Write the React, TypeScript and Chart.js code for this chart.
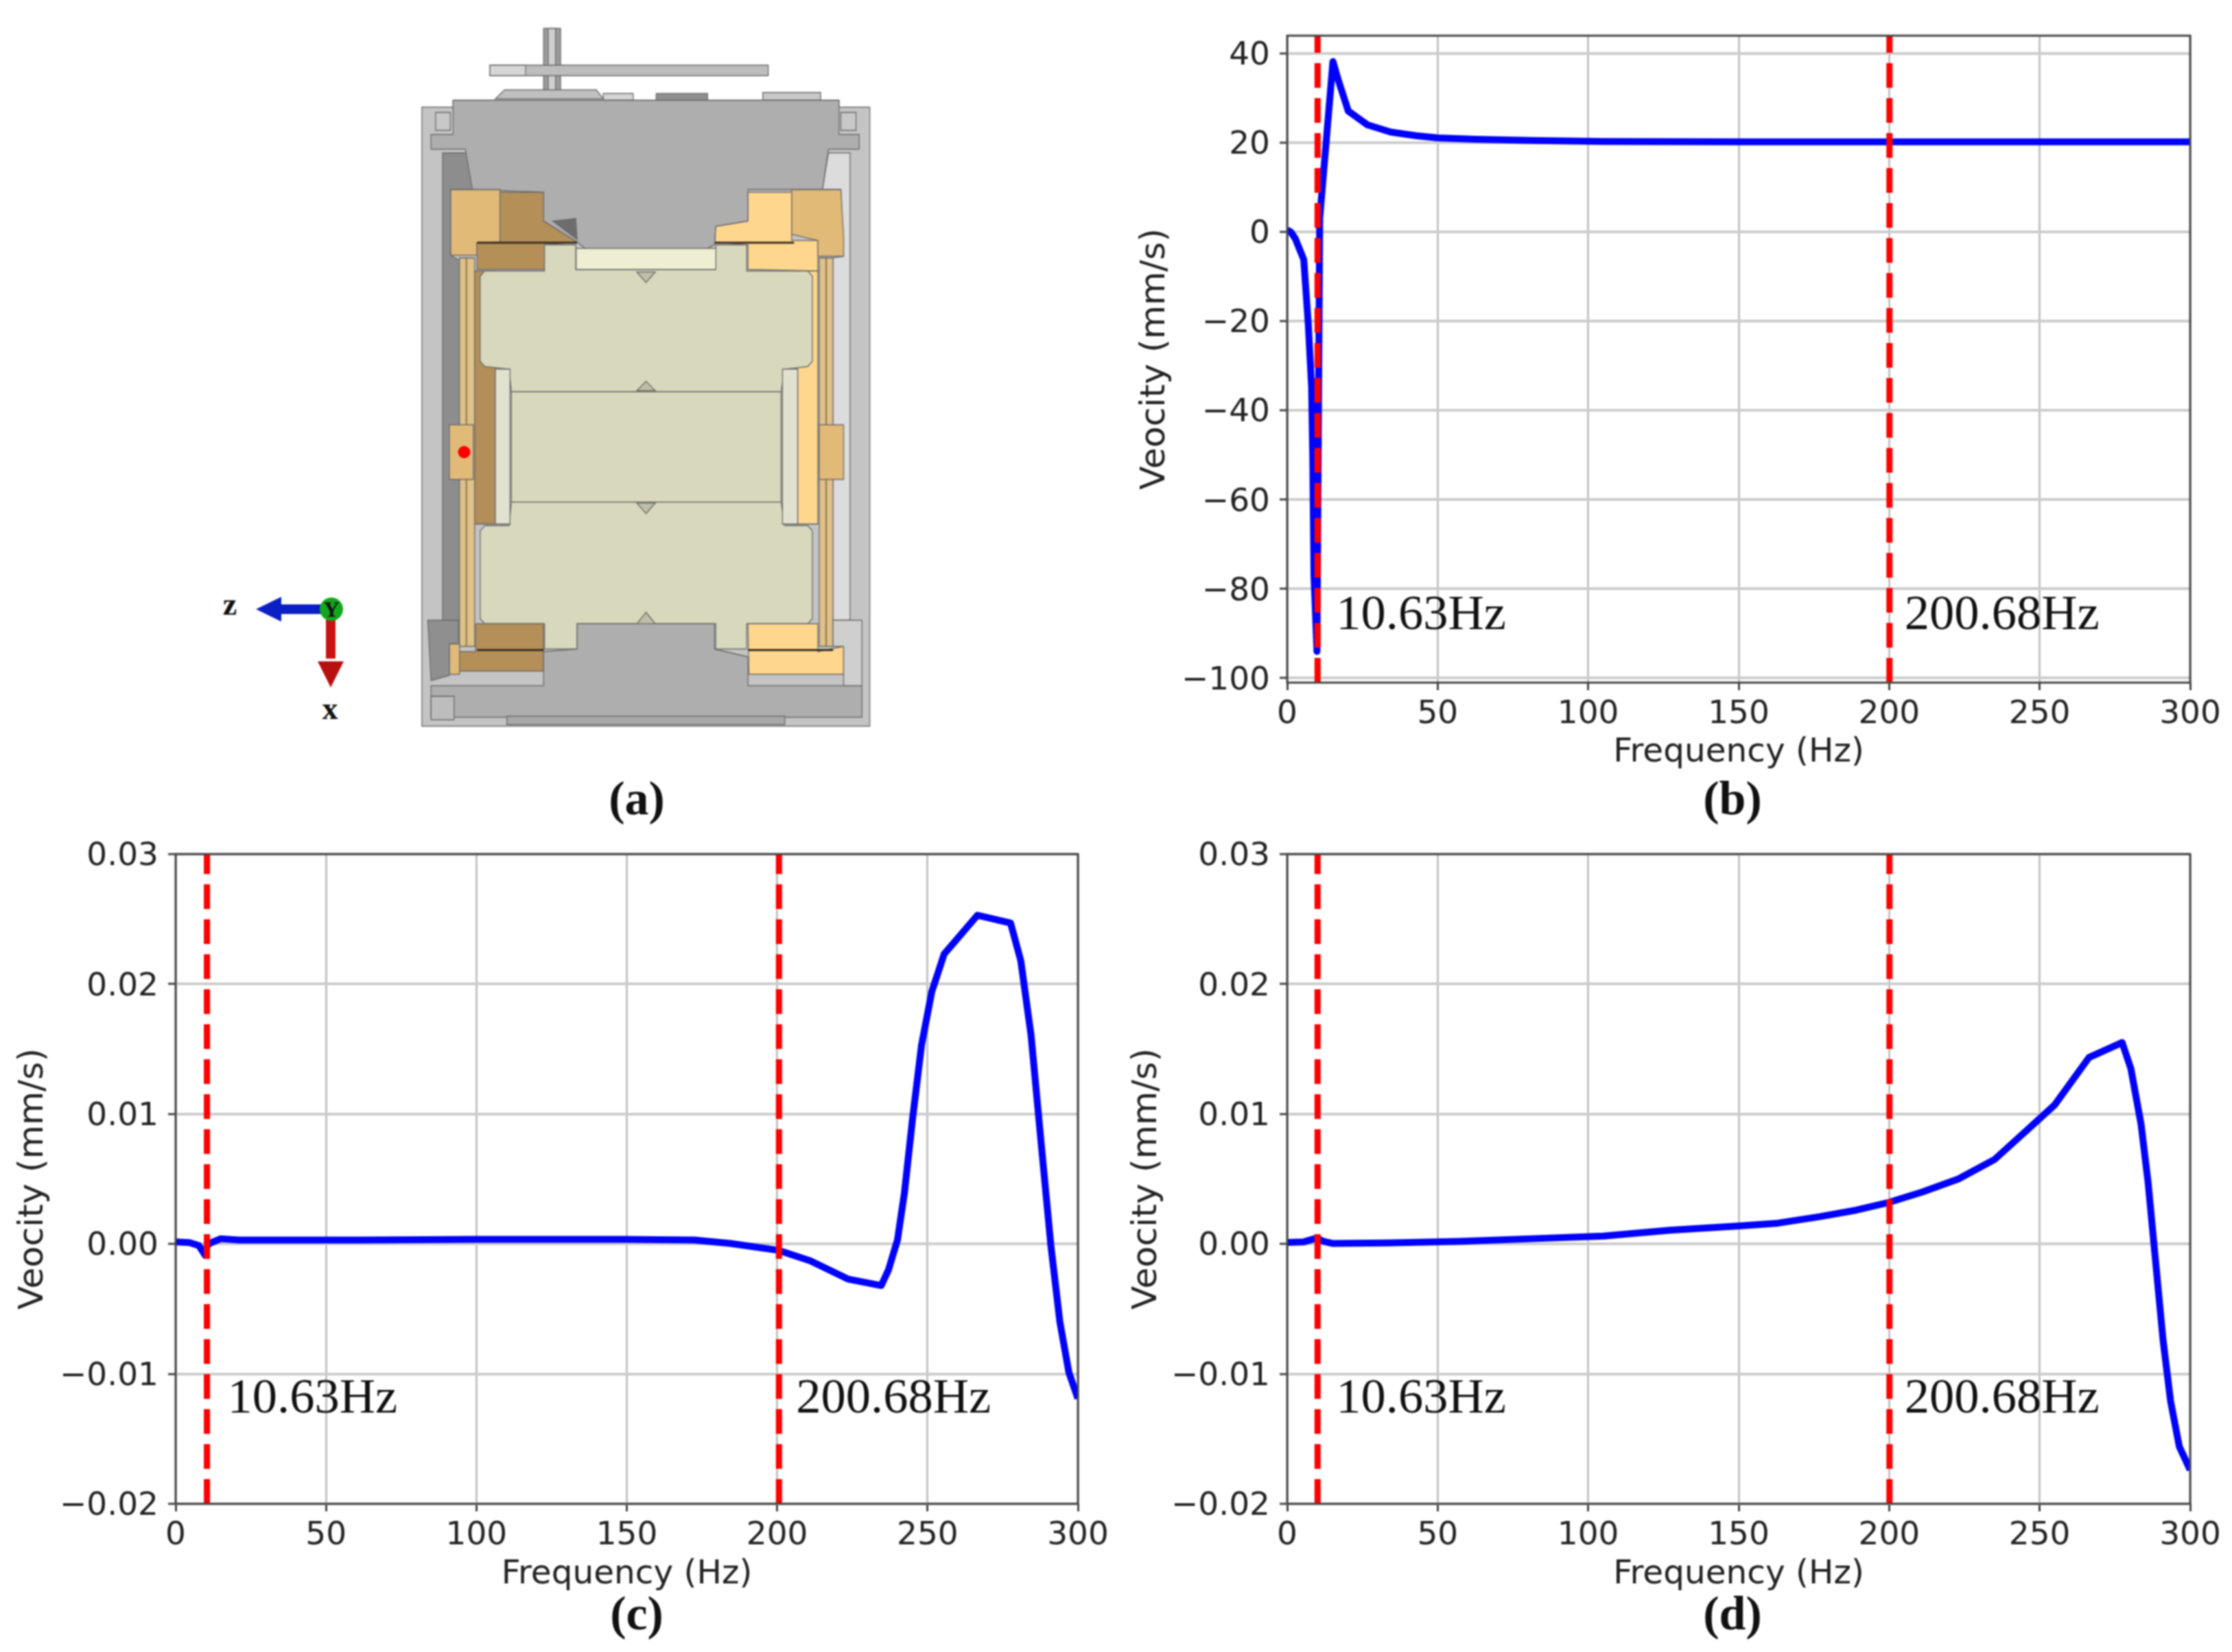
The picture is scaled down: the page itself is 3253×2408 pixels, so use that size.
import { useEffect, useRef } from 'react'
import Chart from 'chart.js/auto'

// values
const xTicks = [0, 50, 100, 150, 200, 250, 300]
const markerHz = [10.1, 200.1]
const markerHzC = [10.4, 200.6]
const markerLabels = ['10.63Hz', '200.68Hz']

const freqB = [0, 1.2, 2.7, 5.5, 7, 8.1, 8.5, 8.9, 9.9, 10.8, 15.2, 17, 20.3, 26.7, 34.4, 42.7, 50, 62.5, 81, 105, 150, 200, 300]
const velB = [0.5, 0, -1.5, -6.2, -20.6, -34.6, -50.6, -77, -94, 3, 38.2, 34, 27.1, 24, 22.4, 21.6, 21.1, 20.8, 20.5, 20.3, 20.2, 20.2, 20.2]
const yTicksB = [-100, -80, -60, -40, -20, 0, 20, 40]

const freqC = [0, 4.6, 7.7, 9.9, 10.5, 11.8, 15, 21, 62, 100, 148, 172.5, 184.5, 200.6, 211, 223.5, 234.6, 237, 240, 242.3, 245, 248, 251.4, 255.5, 266.6, 277.6, 281, 284.4, 288, 291, 294, 297, 300]
const velC = [0.00016, 0.0001, -0.00012, -0.0009, -0.0001, 0.0001, 0.0004, 0.0003, 0.0003, 0.00036, 0.00036, 0.0003, 0.00004, -0.0005, -0.0013, -0.0027, -0.0032, -0.002, 0.0003, 0.0039, 0.0096, 0.0153, 0.0194, 0.0223, 0.0253, 0.0247, 0.0218, 0.0161, 0.0072, -0.0001, -0.006, -0.0099, -0.0119]

const freqD = [0, 5.5, 9.9, 12, 15, 33, 57, 81, 105, 127, 150, 163, 177, 189, 200, 211, 223, 235, 246, 255, 266.4, 277.4, 280.3, 283.7, 286, 288.5, 291, 293.5, 296.4, 300]
const velD = [0.00012, 0.00016, 0.00045, 0.0002, 0.00004, 0.00008, 0.0002, 0.0004, 0.0006, 0.00105, 0.00138, 0.0016, 0.0021, 0.0026, 0.0032, 0.004, 0.005, 0.0065, 0.0088, 0.0107, 0.01435, 0.0155, 0.0135, 0.0092, 0.0048, -0.0013, -0.0074, -0.0121, -0.0156, -0.0174]
const yTicksCD = [-0.02, -0.01, 0, 0.01, 0.02, 0.03]

const FONT_SANS = '"DejaVu Sans"'
const FONT_SERIF = '"Liberation Serif"'
const TEXT = '#222222'

const panelB = {
  freq: freqB, vel: velB, markers: markerHz, yTicks: yTicksB, yMin: -101, yMax: 44, decimals: 0, labelY: -89, labelDx: 0,
  box: { left: 1654, top: -3, width: 1599, height: 1130 },
  plot: { left: 1876, top: 52, right: 3192, bottom: 995 },
}
const panelC = {
  freq: freqC, vel: velC, markers: markerHzC, yTicks: yTicksCD, yMin: -0.02, yMax: 0.03, decimals: 2, labelY: -0.013, labelDx: 3,
  box: { left: 19, top: 1190, width: 1620, height: 1135 },
  plot: { left: 256, top: 1245, right: 1571, bottom: 2192 },
}
const panelD = {
  freq: freqD, vel: velD, markers: markerHz, yTicks: yTicksCD, yMin: -0.02, yMax: 0.03, decimals: 2, labelY: -0.013, labelDx: 0,
  box: { left: 1642, top: 1190, width: 1611, height: 1135 },
  plot: { left: 1876, top: 1245, right: 3192, bottom: 2192 },
}

type Panel = typeof panelB

const framePlugin = {
  id: 'frame',
  afterDatasetsDraw(chart: any, _args: any, opts: any) {
    const { ctx, chartArea: a, scales } = chart
    ctx.save()
    ctx.strokeStyle = '#444444'
    ctx.lineWidth = 3
    ctx.strokeRect(a.left, a.top, a.right - a.left, a.bottom - a.top)
    // frequency labels next to the dashed lines
    ctx.fillStyle = '#111111'
    ctx.font = `72.5px ${FONT_SERIF}`
    ctx.textBaseline = 'alphabetic'
    opts.markers.forEach((hz: number, i: number) => {
      const x = scales.x.getPixelForValue(hz) + (i === 0 ? 27 : 22) + opts.labelDx
      ctx.fillText(markerLabels[i], x, scales.y.getPixelForValue(opts.labelY))
    })
    ctx.restore()
  },
}

function PanelChart({ panel }: { panel: Panel }) {
  const canvasRef = useRef<HTMLCanvasElement>(null)

  useEffect(() => {
    if (!canvasRef.current) return
    const { box, plot } = panel

    const chart = new Chart(canvasRef.current, {
      type: 'line',
      data: {
        datasets: [
          {
            data: panel.freq.map((f, i) => ({ x: f, y: panel.vel[i] })),
            borderColor: '#0000ff',
            borderWidth: 10,
            borderJoinStyle: 'round',
            pointRadius: 0,
            tension: 0,
            order: 2,
            clip: 0,
          },
          ...panel.markers.map((hz) => ({
            data: [{ x: hz, y: panel.yMin }, { x: hz, y: panel.yMax }],
            borderColor: '#ff0000',
            borderWidth: 9,
            borderDash: [36, 15],
            pointRadius: 0,
            order: 1,
            clip: 0,
          })),
        ],
      },
      options: {
        animation: false,
        responsive: false,
        devicePixelRatio: 1,
        layout: {
          autoPadding: false,
          padding: { left: 0, bottom: 0, top: plot.top - box.top, right: box.left + box.width - plot.right },
        },
        plugins: {
          legend: { display: false },
          tooltip: { enabled: false },
          frame: { labelY: panel.labelY, labelDx: panel.labelDx, markers: panel.markers },
        },
        scales: {
          x: {
            type: 'linear',
            min: 0,
            max: 300,
            afterBuildTicks: (s: any) => { s.ticks = xTicks.map((value) => ({ value })) },
            afterFit: (s: any) => { s.height = box.top + box.height - plot.bottom },
            grid: { color: '#c2c2c2', lineWidth: 3, tickColor: '#444444', tickWidth: 3, tickLength: 11 },
            border: { display: false },
            ticks: { color: TEXT, font: { family: FONT_SANS, size: 47 }, maxRotation: 0, autoSkip: false, padding: 8 },
            title: { display: true, text: 'Frequency (Hz)', color: TEXT, font: { family: FONT_SANS, size: 48.5 }, padding: 0 },
          },
          y: {
            type: 'linear',
            min: panel.yMin,
            max: panel.yMax,
            afterBuildTicks: (s: any) => { s.ticks = panel.yTicks.map((value) => ({ value })) },
            afterFit: (s: any) => { s.width = plot.left - box.left },
            grid: { color: '#cccccc', lineWidth: 4, tickColor: '#444444', tickWidth: 3, tickLength: 11 },
            border: { display: false },
            ticks: {
              color: TEXT,
              font: { family: FONT_SANS, size: 47 },
              autoSkip: false,
              padding: 14,
              labelOffset: 4,
              callback: (v: any) => Number(v).toFixed(panel.decimals).replace('-', '\u2212'),
            },
            title: { display: true, text: 'Veocity (mm/s)', color: TEXT, font: { family: FONT_SANS, size: 50.5 }, padding: 0 },
          },
        },
      },
      plugins: [framePlugin],
    } as any)

    return () => chart.destroy()
  }, [panel])

  return (
    <canvas
      ref={canvasRef}
      width={panel.box.width}
      height={panel.box.height}
      style={{ position: 'absolute', left: panel.box.left, top: panel.box.top }}
    />
  )
}

// panel (a): sketch of the section view, in a 1568-wide drawing space
const cadParts: [string, string][] = [
  ['#c4c4c4', '500,178 568,178 568,165 1408,165 1408,178 1475,178 1475,1357 500,1357'],
  ['#8d8d8d', '545,265 600,265 612,335 563,335 563,460 582,470 582,1155 545,1155'],
  ['#dcdcdc', '1385,265 1432,265 1432,1155 1395,1155 1395,465 1418,462 1412,335 1372,335'],
  ['#aeaeae', '568,165 1408,165 1408,230 1452,230 1452,258 1385,258 1372,335 1210,335 1210,395 1140,405 1137,440 1115,450 860,450 838,435 765,395 765,340 610,335 595,258 520,258 520,230 568,230'],
  ['#e2ba78', '563,335 670,335 670,435 620,437 620,460 563,460'],
  ['#b48f58', '670,340 765,340 765,395 838,435 767,440 767,487 620,487 620,437 670,435'],
  ['#6d6d6d', '785,395 835,390 838,430'],
  ['#ffd68e', '1210,340 1305,340 1305,432 1362,432 1362,490 1210,487 1210,440 1138,435 1140,405 1210,395'],
  ['#e2ba78', '1305,335 1412,335 1418,425 1418,462 1362,462 1362,432 1305,420'],
  ['#dfc189', '582,465 615,465 615,1205 582,1205'],
  ['#dfc189', '1365,465 1395,465 1395,1205 1365,1205'],
  ['#b38e58', '615,490 660,490 660,972 615,972'],
  ['#ffd68e', '1318,490 1362,490 1362,972 1318,972'],
  ['#e2ba78', '560,783 612,783 612,887 560,887'],
  ['#e2ba78', '1365,783 1418,783 1418,887 1365,887'],
  ['#d8d8bc', '767,440 835,440 835,487 1140,487 1140,440 1207,440 1207,490 1340,490 1350,500 1350,662 1340,672 1290,677 1282,720 695,720 690,677 637,672 627,662 627,500 637,490 767,490'],
  ['#d8d8bc', '695,720 1282,720 1282,930 695,930'],
  ['#d8d8bc', '690,975 695,930 1282,930 1290,975 1340,975 1350,985 1350,1152 1340,1162 1207,1162 1207,1210 1140,1210 1140,1162 838,1162 838,1210 767,1210 767,1162 637,1162 627,1152 627,985 637,975'],
  ['#f0eed2', '836,447 1140,447 1140,487 836,487'],
  ['#e0e1cf', '660,677 692,677 692,972 660,972'],
  ['#e0e1cf', '1285,677 1318,677 1318,972 1285,972'],
  ['#ffd68e', '1210,1162 1362,1162 1362,1215 1418,1205 1418,1258 1212,1258'],
  ['#b48f58', '617,1162 765,1162 765,1252 580,1252 580,1215 617,1215'],
  ['#e2ba78', '560,1200 582,1200 582,1258 560,1258'],
  ['#aeaeae', '838,1162 1137,1162 1137,1210 1210,1225 1210,1280 1458,1280 1458,1340 520,1340 520,1280 765,1280 765,1215 838,1210'],
  ['#8f8f8f', '513,1155 580,1155 580,1200 560,1200 560,1260 520,1270'],
  ['#cfcfcf', '1395,1155 1458,1155 1458,1280 1418,1280 1418,1205 1395,1205'],
  ['#bdbdbd', '520,1300 570,1300 570,1345 520,1345'],
  ['#a8a8a8', '685,1338 1290,1338 1290,1354 685,1354'],
]

function PanelA() {
  return (
    <svg width={3253} height={2408} style={{ position: 'absolute', left: 0, top: 0 }}>
      <g transform="translate(280 20) scale(0.6696 0.7653)" stroke="#6b6b6b" strokeWidth={2}>
        <rect x={765} y={28} width={37} height={118} fill="#9c9c9c" />
        <rect x={775} y={28} width={16} height={118} fill="#cfcfcf" />
        <rect x={648} y={98} width={606} height={20} fill="#bdbdbd" />
        <rect x={648} y={98} width={78} height={20} fill="#d6d6d6" />
        <polygon points="660,162 680,145 880,145 895,162" fill="#c0c0c0" />
        <rect x={895} y={152} width={65} height={13} fill="#d5d5d5" />
        <rect x={1010} y={152} width={112} height={15} fill="#8f8f8f" />
        <rect x={1242} y={150} width={126} height={15} fill="#c8c8c8" />
        {cadParts.map(([fill, pts]) => (
          <polygon key={pts} points={pts} fill={fill} />
        ))}
        <rect x={530} y={188} width={32} height={34} fill="#c8c8c8" />
        <rect x={1412} y={188} width={33} height={34} fill="#c8c8c8" />
        <polygon points="988,512 968,492 1008,492" fill="#bfbfa8" />
        <polygon points="988,700 968,718 1008,718" fill="#bfbfa8" />
        <polygon points="988,952 968,932 1008,932" fill="#bfbfa8" />
        <polygon points="988,1140 968,1162 1008,1162" fill="#bfbfa8" />
        {/* rails and the dark seams between the parts */}
        <path d="M597 465V783M597 887V1205M1380 465V783M1380 887V1205" fill="none" stroke="#8c7448" strokeWidth={3} />
        <path d="M620 436H838M1138 436H1310M620 1212H765M1210 1212H1395" fill="none" stroke="#3a3022" strokeWidth={4} />
      </g>

      <circle cx={676.5} cy={659} r={9} fill="#ff0000" />

      {/* axis triad */}
      <rect x={405} y={881} width={70} height={14} fill="#0a1fc4" />
      <polygon points="373,888 410,870 410,906" fill="#0a1fc4" />
      <rect x={475} y={900} width={14} height={60} fill="#cc1111" />
      <polygon points="482,1002 463,964 501,964" fill="#b80f0f" />
      <circle cx={483} cy={888} r={17} fill="#12a81e" />
      <text x={483} y={899} textAnchor="middle" fontFamily={FONT_SERIF} fontWeight="bold" fontSize={32} fill="#111">Y</text>
      <text x={335} y={896} textAnchor="middle" fontFamily={FONT_SERIF} fontWeight="bold" fontSize={46} fill="#111">z</text>
      <text x={481} y={1048} textAnchor="middle" fontFamily={FONT_SERIF} fontWeight="bold" fontSize={46} fill="#111">x</text>

      {/* panel captions */}
      <g fontFamily={FONT_SERIF} fontWeight="bold" fontSize={70} fill="#111" textAnchor="middle">
        <text x={928} y={1187}>(a)</text>
        <text x={2525} y={1187}>(b)</text>
        <text x={928} y={2375}>(c)</text>
        <text x={2525} y={2375}>(d)</text>
      </g>
    </svg>
  )
}

export default function App() {
  return (
    <div style={{ position: 'absolute', left: 0, top: 0, width: 3253, height: 2408, background: '#ffffff', overflow: 'hidden', filter: 'blur(1px)' }}>
      <PanelA />
      <PanelChart panel={panelB} />
      <PanelChart panel={panelC} />
      <PanelChart panel={panelD} />
    </div>
  )
}
